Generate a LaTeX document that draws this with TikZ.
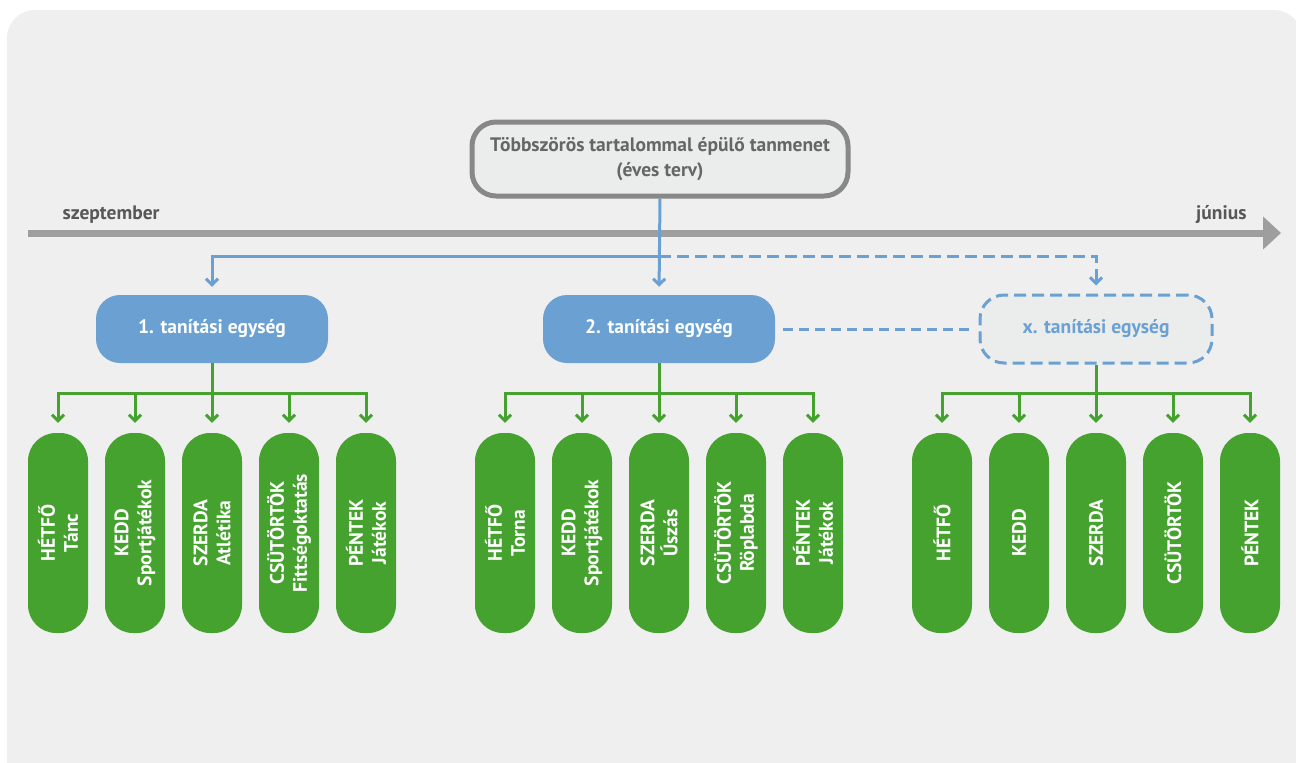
\documentclass[tikz,border=0pt]{standalone}
\usepackage{fontspec}
\setmainfont{PT Sans}[BoldFont={* Bold}]
\usetikzlibrary{arrows.meta,positioning}
\definecolor{tpanel}{RGB}{239,239,239}
\definecolor{tboxfill}{RGB}{235,236,236}
\definecolor{tframe}{RGB}{136,136,136}
\definecolor{ttext}{RGB}{102,102,102}
\definecolor{tline}{RGB}{158,158,158}
\definecolor{tblue}{RGB}{106,160,210}
\definecolor{tgreen}{RGB}{70,162,46}

\tikzset{
  planbox/.style={draw=tframe,line width=5pt,fill=tboxfill,rounded corners=24pt,
    minimum width=376pt,minimum height=74pt,align=center,text=ttext,
    font=\fontsize{19.5}{25}\selectfont\bfseries},
  unitbox/.style={fill=tblue,rounded corners=24pt,minimum width=232pt,
    minimum height=68pt,text=white,font=\fontsize{19.5}{22}\selectfont\bfseries},
  unitdash/.style={unitbox,fill=tboxfill,draw=tblue,line width=3pt,
    dash pattern=on 12pt off 6pt,text=tblue},
  daybox/.style={fill=tgreen,rounded corners=28pt,minimum width=60pt,
    minimum height=200pt},
  daytext/.style={rotate=90,text=white,align=center,inner sep=0pt,
    font=\fontsize{19.5}{23}\selectfont\bfseries},
  monthtext/.style={text=ttext!85!black,font=\fontsize{19.5}{22}\selectfont\bfseries},
  blueline/.style={draw=tblue,line width=3pt},
  greenline/.style={draw=tgreen,line width=3pt},
  tip/.style={-{Straight Barb[length=6pt,width=12pt]},shorten >=8pt},
}

\begin{document}
\begin{tikzpicture}[x=1pt,y=-1pt]
  \useasboundingbox (0,0) rectangle (1296,763);
  % grey panel
  \begin{scope}
    \clip (0,0) rectangle (1296,763);
    \fill[tpanel,rounded corners=28pt] (7,10) rectangle (1302,800);
  \end{scope}

  % year timeline
  \coordinate (tstart) at (28,233);
  \coordinate (tend) at (1281,233);
  \draw[tline,line width=7pt,-{Triangle[length=18pt,width=32pt]}] (tstart) -- (tend);
  \node[monthtext,anchor=base west] (sept) at (59,219) {szeptember};
  \node[monthtext,anchor=base east] (jun) at (1250,219) {június};

  % annual plan
  \node[planbox] (plan) at (660,159) {Többszörös tartalommal épülő tanmenet\\(éves terv)};

  % teaching units
  \node[unitbox] (u1) at (212,329) {1. tanítási egység};
  \node[unitbox] (u2) at (659,329) {2. tanítási egység};
  \node[unitdash] (ux) at (1096,329) {x. tanítási egység};

  \coordinate (split) at (659,256);
  \draw[blueline,tip] (plan.south) -- (u2.north);
  \draw[blueline,tip] (split) -| (u1.north);
  \draw[blueline,tip,dash pattern=on 12pt off 6pt] (split) -| (ux.north);
  \draw[blueline,dash pattern=on 10pt off 6pt,shorten <=8pt,shorten >=9pt] (u2.east) -- (ux.west);

  % days of the week
  \foreach \g/\cx in {1/212,2/659,3/1096}{
    \coordinate (bar\g) at (\cx,393);
    \foreach \k in {1,...,5}{
      \node[daybox] (d\g-\k) at ({\cx+(\k-3)*77},533) {};
      \draw[greenline,tip,shorten >=10pt] (bar\g) -| (d\g-\k.north);
    }
  }
  \draw[greenline] (u1.south) -- (bar1);
  \draw[greenline] (u2.south) -- (bar2);
  \draw[greenline] (ux.south) -- (bar3);

  \node[daytext] (t1-1) at (d1-1) {HÉTFŐ\\Tánc};
  \node[daytext] (t1-2) at (d1-2) {KEDD\\Sportjátékok};
  \node[daytext] (t1-3) at (d1-3) {SZERDA\\Atlétika};
  \node[daytext] (t1-4) at (d1-4) {CSÜTÖRTÖK\\Fittségoktatás};
  \node[daytext] (t1-5) at (d1-5) {PÉNTEK\\Játékok};

  \node[daytext] (t2-1) at (d2-1) {HÉTFŐ\\Torna};
  \node[daytext] (t2-2) at (d2-2) {KEDD\\Sportjátékok};
  \node[daytext] (t2-3) at (d2-3) {SZERDA\\Úszás};
  \node[daytext] (t2-4) at (d2-4) {CSÜTÖRTÖK\\Röplabda};
  \node[daytext] (t2-5) at (d2-5) {PÉNTEK\\Játékok};

  \node[daytext] (t3-1) at (d3-1) {HÉTFŐ};
  \node[daytext] (t3-2) at (d3-2) {KEDD};
  \node[daytext] (t3-3) at (d3-3) {SZERDA};
  \node[daytext] (t3-4) at (d3-4) {CSÜTÖRTÖK};
  \node[daytext] (t3-5) at (d3-5) {PÉNTEK};
\end{tikzpicture}
\end{document}
